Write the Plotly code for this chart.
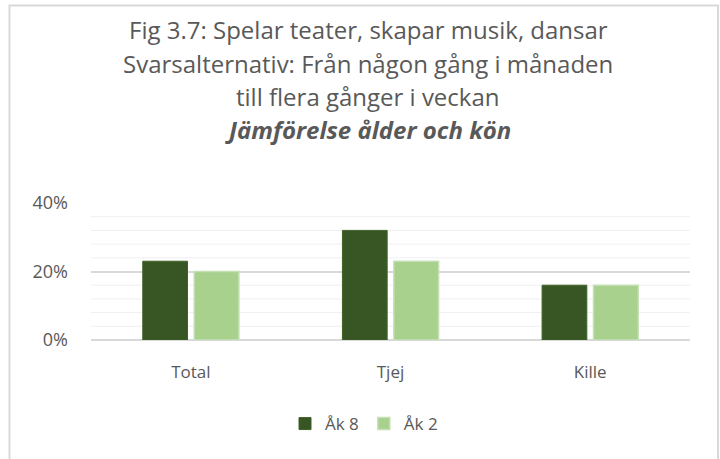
import plotly.graph_objects as go

categories = ["Total", "Tjej", "Kille"]
ak8 = [23, 32, 16]
ak2 = [20, 23, 16]
series_names = ["Åk 8", "Åk 2"]
title_lines = [
    "Fig 3.7: Spelar teater, skapar musik, dansar",
    "Svarsalternativ: Från någon gång i månaden",
    "till flera gånger i veckan",
    "<b><i>Jämförelse ålder och kön</i></b>",
]
y_ticks = [0, 20, 40]
y_tick_labels = ["0%", "20%", "40%"]

FONT = "Open Sans"
fig = go.Figure()
fig.add_trace(go.Bar(x=categories, y=ak8, name=series_names[0],
                     marker=dict(color="#375623", line=dict(color="#3f6129", width=1))))
fig.add_trace(go.Bar(x=categories, y=ak2, name=series_names[1],
                     marker=dict(color="#a9d18e", line=dict(color="#c5e0b4", width=1.5))))

L, R, T, B = 91, 30, 203, 119
W, H = 720, 459
ph = H - T - B
pw = W - L - R

def py(ypx):
    return (H - B - ypx) / ph

def px(xpx):
    return (xpx - L) / pw

minor = [v for v in range(0, 41, 4) if v not in y_ticks]
shapes = []
for v in minor:
    shapes.append(dict(type="line", xref="paper", yref="y", x0=0, x1=1, y0=v, y1=v,
                       line=dict(color="#efefef", width=1), layer="below"))
shapes.append(dict(type="rect", xref="paper", yref="paper",
                   x0=px(9.5), x1=px(718), y0=py(470), y1=py(5.5),
                   line=dict(color="#d9d9d9", width=2), fillcolor="rgba(0,0,0,0)"))

annotations = []
ys = [30, 63, 96, 129]
for t, yy in zip(title_lines, ys):
    annotations.append(dict(text=t, xref="paper", yref="paper", x=px(368), y=py(yy),
                            xanchor="center", yanchor="middle", showarrow=False,
                            font=dict(family=FONT, size=24, color="#595959")))

fig.update_layout(
    width=W, height=H,
    margin=dict(l=L, r=R, t=T, b=B, autoexpand=False),
    paper_bgcolor="white", plot_bgcolor="white",
    font=dict(family=FONT, color="#595959", size=17),
    barmode="group", bargap=0.485, bargroupgap=0.13,
    showlegend=True,
    legend=dict(orientation="h", x=px(364), xanchor="center", y=py(424), yanchor="middle",
                font=dict(size=17, color="#595959"), itemwidth=30, traceorder="normal"),
    shapes=shapes, annotations=annotations,
    xaxis=dict(showgrid=False, showline=False, ticks="", tickfont=dict(size=17),
               ticklabelstandoff=20),
    yaxis=dict(range=[0, 40], tickvals=y_ticks, ticktext=y_tick_labels,
               showgrid=True, gridcolor="#d9d9d9", gridwidth=1.5, zeroline=True,
               zerolinecolor="#d9d9d9", zerolinewidth=1.5, ticks="",
               tickfont=dict(size=18), ticklabelstandoff=22),
)
fig.write_html("out.html", config={"displayModeBar": False},
               post_script="document.body.style.margin='0';document.body.style.padding='0';")
